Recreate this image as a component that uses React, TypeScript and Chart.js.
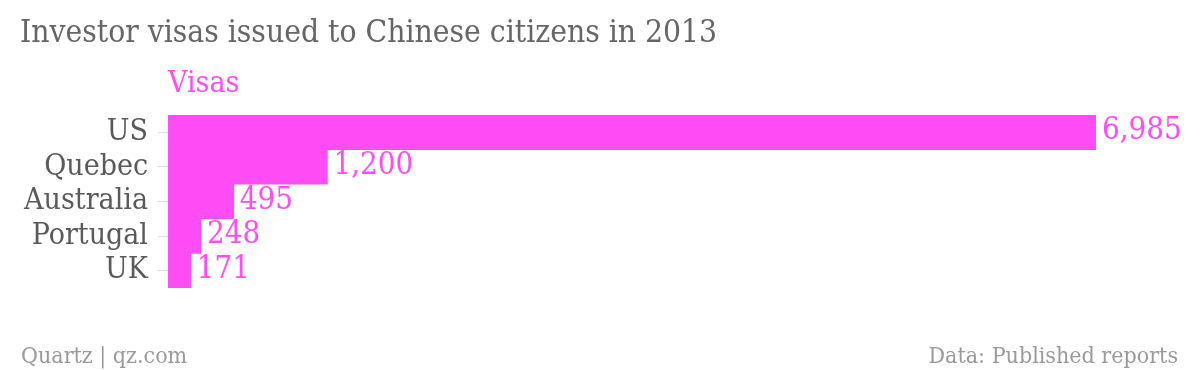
import React, { useEffect, useRef } from "react";
import { Chart, registerables } from "chart.js";

Chart.register(...registerables);

const categories = ["US", "Quebec", "Australia", "Portugal", "UK"];
const visas = [6985, 1200, 495, 248, 171];
const seriesName = "Visas";
const titleText = "Investor visas issued to Chinese citizens in 2013";
const sourceLeft = "Quartz | qz.com";
const sourceRight = "Data: Published reports";

const MAGENTA = "#ff4cf5";
const FONT = "'DejaVu Serif Condensed', 'DejaVu Serif', serif";

const textPlugin = {
  id: "qzText",
  afterDatasetsDraw(chart: any) {
    const ctx = chart.ctx;
    const area = chart.chartArea;
    ctx.save();
    // value labels
    const meta = chart.getDatasetMeta(0);
    ctx.font = `31px ${FONT}`;
    ctx.fillStyle = MAGENTA;
    ctx.textAlign = "left";
    ctx.textBaseline = "middle";
    meta.data.forEach((bar: any, i: number) => {
      const v = chart.data.datasets[0].data[i] as number;
      ctx.fillText(v.toLocaleString("en-US"), bar.x + 6, bar.y - 1);
    });
    // title
    ctx.textBaseline = "alphabetic";
    ctx.font = `31.5px ${FONT}`;
    ctx.fillStyle = "#666666";
    ctx.fillText(titleText, 20, 42);
    // series name
    ctx.font = `30px ${FONT}`;
    ctx.fillStyle = MAGENTA;
    ctx.fillText(seriesName, area.left, 92);
    // footer
    ctx.font = `23px ${FONT}`;
    ctx.fillStyle = "#9a9a9a";
    ctx.fillText(sourceLeft, 21, 363);
    ctx.textAlign = "right";
    ctx.fillText(sourceRight, 1178, 363);
    ctx.restore();
  },
};

export default function App() {
  const ref = useRef<HTMLCanvasElement>(null);
  useEffect(() => {
    document.body.style.margin = "0";
    const chart = new Chart(ref.current!, {
      type: "bar",
      data: {
        labels: categories,
        datasets: [
          {
            label: seriesName,
            data: visas,
            backgroundColor: MAGENTA,
            categoryPercentage: 1,
            barPercentage: 1,
            borderWidth: 0,
          },
        ],
      },
      options: {
        indexAxis: "y",
        animation: false,
        responsive: false,
        maintainAspectRatio: false,
        layout: { padding: { top: 115, bottom: 82, right: 104, left: 0 } },
        plugins: {
          legend: { display: false },
          tooltip: { enabled: false },
          title: { display: false },
        },
        scales: {
          x: { display: false, min: 0, max: 6985 },
          y: {
            afterFit(scale: any) {
              scale.width = 168;
            },
            border: { display: false },
            grid: {
              offset: false,
              drawOnChartArea: false,
              drawTicks: true,
              tickLength: 10,
              tickColor: "#dddddd",
              tickWidth: 1,
            },
            ticks: {
              autoSkip: false,
              padding: 10,
              color: "#5a5a5a",
              font: { family: FONT, size: 30 },
            },
          },
        },
      },
      plugins: [textPlugin],
    });
    return () => chart.destroy();
  }, []);
  return (
    <div style={{ position: "absolute", left: 0, top: 0, width: 1200, height: 370 }}>
      <canvas ref={ref} width={1200} height={370} style={{ width: 1200, height: 370 }} />
    </div>
  );
}
